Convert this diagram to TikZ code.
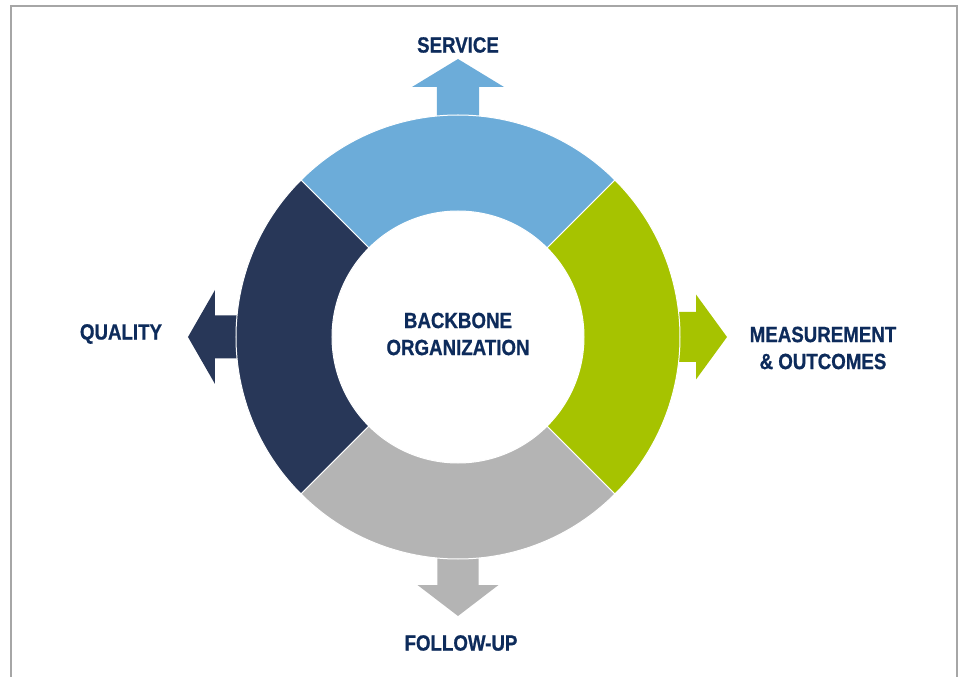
\documentclass[tikz,border=0pt]{standalone}
\usepackage{fontspec}
\newfontfamily\lblfont{Liberation Sans}[FakeStretch=0.85, BoldFeatures={FakeBold=0.8}]
\usetikzlibrary{positioning}
\definecolor{servblue}{HTML}{6CACD9}
\definecolor{qualnavy}{HTML}{283758}
\definecolor{measgreen}{HTML}{A6C300}
\definecolor{follgray}{HTML}{B4B4B4}
\definecolor{labelnavy}{HTML}{0D2B5B}
\definecolor{framegray}{HTML}{A6A6A6}

\begin{document}
\begin{tikzpicture}[x=1pt,y=1pt,
  lbl/.style={font=\lblfont\bfseries\fontsize{22}{27}\selectfont, text=labelnavy, align=center, inner sep=0pt}]

\useasboundingbox (-458,-340) rectangle (503,337);
\draw[framegray, line width=1.5pt] (-447,-342) -- (-447,331) -- (499,331) -- (499,-342);

% arrows: angle/colour/tip/head base/head half width/shaft half width
\foreach \a/\c/\t/\b/\h/\s in {90/servblue/278/250/46/21,180/qualnavy/270/243/47/21.5,0/measgreen/269/238/42.5/25,270/follgray/279/248/40.5/20.5}
  \fill[\c, rotate=\a-90] (-\s,160) -- (-\s,\b) -- (-\h,\b) -- (0,\t) -- (\h,\b) -- (\s,\b) -- (\s,160) -- cycle;

% ring
\foreach \a/\c in {45/servblue,135/qualnavy,225/follgray,315/measgreen}
  \filldraw[fill=\c, draw=white, line width=1pt] (\a:126) arc[start angle=\a, end angle=\a+90, radius=126]
    -- (\a+90:222) arc[start angle=\a+90, end angle=\a, radius=222] -- cycle;

\node[lbl]                                     (B) at (0,3) {BACKBONE\\ORGANIZATION};
\node[lbl, above of=B, node distance=289pt]    (S) {SERVICE};
\node[lbl, left of=B, node distance=337pt]     (Q) {QUALITY};
\node[lbl, right of=B, node distance=365pt, yshift=-14pt] (M) {MEASUREMENT\\\& OUTCOMES};
\node[lbl, below of=B, node distance=309pt, xshift=3pt]   (F) {FOLLOW-UP};

\end{tikzpicture}
\end{document}
